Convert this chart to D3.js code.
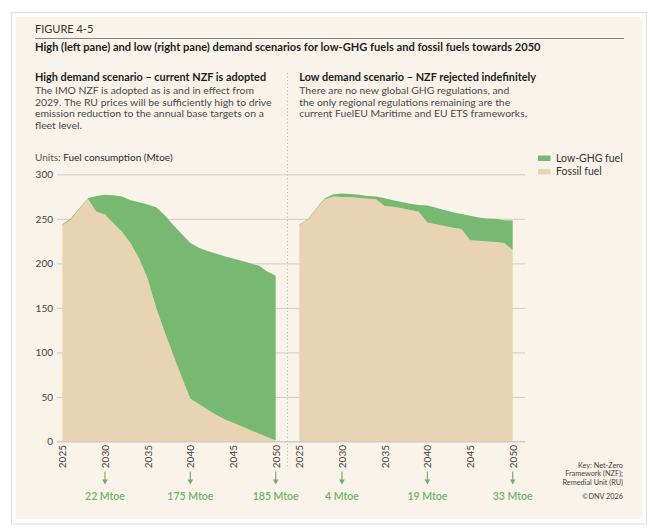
<!DOCTYPE html>
<html>
<head>
<meta charset="utf-8">
<script src="https://cdn.jsdelivr.net/npm/d3@7"></script>
<style>
  body { margin: 0; background: #fff; }
  svg { display: block; font-family: Lato, "Open Sans", sans-serif; }
</style>
</head>
<body>
<div class="svgs"></div>
<script>
// data (Mtoe)
const years = d3.range(2025, 2051)
const highFossil = [243, 249, 261, 272.5, 258, 255, 245, 235.5, 222.5, 205.5, 183, 150, 123, 97, 72, 48, 42, 36, 30, 25, 21, 17, 13, 9, 5, 1]
const highLowGhg = [1, 1.5, 1, 0.5, 17.5, 22, 31.5, 39.5, 48.5, 63, 83, 113, 131, 146, 161, 175, 175.5, 178, 181, 183, 184.5, 186, 187, 188.5, 186, 185]
const lowFossil = [243, 249, 261, 272, 275, 274.5, 274.5, 273.5, 272.5, 272, 264.5, 263.5, 262, 260, 258, 246, 244, 242, 240, 238.5, 226, 225.5, 224.5, 224, 223, 215]
const lowLowGhg = [0.5, 0.5, 1, 1, 2.5, 4, 3.5, 3.5, 3, 3, 8.5, 7.5, 7, 7, 7.5, 19, 18.5, 18, 17.5, 17, 27.5, 26, 26, 26, 25.5, 33]
const yTicks = [0, 50, 100, 150, 200, 250, 300]
const xTicks = [2025, 2030, 2035, 2040, 2045, 2050]
const calloutYears = [2030, 2040, 2050]

const W = 666, H = 532
const green = "#78b972"
const beige = "#e8d3b3"
const labelGreen = "#6cb566"

const svg = d3.create("svg").attr("width", W).attr("height", H)

// card
svg.append("rect").attr("x", 11.5).attr("y", 12.5).attr("width", 635).attr("height", 511.5)
    .attr("fill", "#fff").attr("stroke", "#dedede")
svg.append("rect").attr("x", 16).attr("y", 17).attr("width", 626).attr("height", 502)
    .attr("fill", "#f9f3ea")

// header
svg.append("text").attr("x", 35).attr("y", 33).attr("font-size", 11).attr("fill", "#333")
    .text("FIGURE 4-5")
svg.append("line").attr("x1", 35).attr("x2", 624).attr("y1", 38.5).attr("y2", 38.5)
    .attr("stroke", "#666").attr("stroke-width", 0.8)
svg.append("text").attr("x", 35).attr("y", 50.5).attr("font-size", 11.1).attr("font-weight", "bold").attr("fill", "#1e1e1e")
    .text("High (left pane) and low (right pane) demand scenarios for low-GHG fuels and fossil fuels towards 2050")

const panes = [
    { x: 35, head: "High demand scenario \u2013 current NZF is adopted",
      body: ["The IMO NZF is adopted as is and in effect from",
             "2029. The RU prices will be sufficiently high to drive",
             "emission reduction to the annual base targets on a",
             "fleet level."],
      range: [62.3, 275.7], fossil: highFossil, lowGhg: highLowGhg },
    { x: 299.3, head: "Low demand scenario \u2013 NZF rejected indefinitely",
      body: ["There are no new global GHG regulations, and",
             "the only regional regulations remaining are the",
             "current FuelEU Maritime and EU ETS frameworks."],
      range: [299.3, 512.7], fossil: lowFossil, lowGhg: lowLowGhg }
]

panes.forEach(p => {
    svg.append("text").attr("x", p.x).attr("y", 80.7).attr("font-size", 10.9).attr("font-weight", "bold")
        .attr("fill", "#1e1e1e").text(p.head)
    svg.append("g").selectAll("text").data(p.body).join("text")
        .attr("x", p.x).attr("y", (d, i) => 94 + i * 11.7)
        .attr("font-size", 10.4).attr("fill", "#4a4a4a").text(d => d)
})

// separator
svg.append("line").attr("x1", 287.5).attr("x2", 287.5).attr("y1", 73).attr("y2", 466)
    .attr("stroke", "#b9b4ac").attr("stroke-dasharray", "1,2.5")

// y scale + gridlines
const y = d3.scaleLinear().domain([0, 300]).range([441.5, 174.3])

svg.append("g")
    .attr("transform", "translate(57,0)")
    .call(d3.axisLeft(y).tickValues(yTicks).tickSize(-468).tickPadding(4))
    .call(g => g.select(".domain").remove())
    .call(g => g.selectAll(".tick line").attr("stroke", "#cdc8bf").attr("stroke-width", 0.9))
    .call(g => g.selectAll(".tick text").attr("font-size", 10).attr("fill", "#444").attr("font-family", "Lato"))

svg.append("text").attr("x", 35).attr("y", 160.8).attr("font-size", 10)
    .call(t => t.append("tspan").attr("fill", "#555").text("Units: "))
    .call(t => t.append("tspan").attr("fill", "#2a2a2a").text("Fuel consumption (Mtoe)"))

// areas
panes.forEach(p => {
    const x = d3.scaleLinear().domain([2025, 2050]).range(p.range)
    const rows = years.map((yr, i) => ({ year: yr, fossil: p.fossil[i], lowGhg: p.lowGhg[i] }))
    const series = d3.stack().keys(["fossil", "lowGhg"])(rows)
    const area = d3.area()
        .x(d => x(d.data.year))
        .y0(d => y(d[0]))
        .y1(d => y(d[1]))

    svg.append("g").selectAll("path").data(series).join("path")
        .attr("fill", d => d.key === "fossil" ? beige : green)
        .attr("d", area)

    // x axis
    svg.append("g")
        .attr("transform", "translate(0,441.5)")
        .call(d3.axisBottom(x).tickValues(xTicks).tickFormat(d3.format("d")).tickSize(0))
        .call(g => g.select(".domain").remove())
        .call(g => g.selectAll(".tick text")
            .attr("transform", "rotate(-90)")
            .attr("text-anchor", "end")
            .attr("x", -3.5).attr("y", 0).attr("dy", "0.36em")
            .attr("font-size", 10).attr("fill", "#444").attr("font-family", "Lato"))

    // callouts: low-GHG volume in 2030, 2040, 2050
    const callouts = calloutYears.map(yr => ({ year: yr, value: p.lowGhg[years.indexOf(yr)] }))
    const cg = svg.append("g").selectAll("g").data(callouts).join("g")
        .attr("transform", d => `translate(${x(d.year)},0)`)
    cg.append("line").attr("y1", 471.5).attr("y2", 482)
        .attr("stroke", labelGreen).attr("stroke-width", 1.2)
    cg.append("path").attr("d", "M-2.8,479.5L0,484.5L2.8,479.5Z").attr("fill", labelGreen)
    cg.append("text").attr("y", 499.5).attr("text-anchor", "middle")
        .attr("font-size", 10.5).attr("font-weight", 600).attr("fill", labelGreen)
        .text(d => `${Math.round(d.value)} Mtoe`)
})

// zero axis line
svg.append("line").attr("x1", 57).attr("x2", 525).attr("y1", 441.5).attr("y2", 441.5)
    .attr("stroke", "#cdc8bf").attr("stroke-width", 0.9)

// legend
const legend = [{ name: "Low-GHG fuel", color: green }, { name: "Fossil fuel", color: beige }]
const lg = svg.append("g").selectAll("g").data(legend).join("g")
    .attr("transform", (d, i) => `translate(538,${155.5 + i * 13.5})`)
lg.append("rect").attr("width", 12.5).attr("height", 5.5).attr("fill", d => d.color)
lg.append("text").attr("x", 18).attr("y", 6.3).attr("font-size", 10.5).attr("fill", "#333").text(d => d.name)

// key + credit
const keyLines = ["Key: Net-Zero", "Framework (NZF);", "Remedial Unit (RU)"]
svg.append("g").selectAll("text").data(keyLines).join("text")
    .attr("x", 623).attr("y", (d, i) => 467.7 + i * 8.4)
    .attr("text-anchor", "end").attr("font-size", 7.3).attr("fill", "#444").text(d => d)
svg.append("text").attr("x", 623).attr("y", 499.4).attr("text-anchor", "end")
    .attr("font-size", 7.3).attr("fill", "#444").text("\u00a9DNV 2026")

document.querySelector(".svgs").appendChild(svg.node())
</script>
</body>
</html>
